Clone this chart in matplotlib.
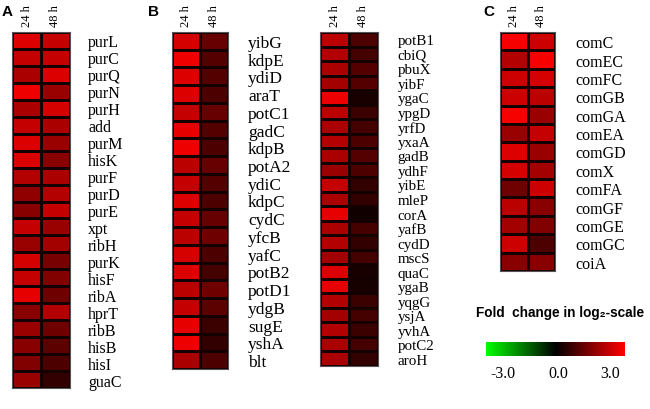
import numpy as np
import matplotlib
matplotlib.use("Agg")
import matplotlib.pyplot as plt
from matplotlib.colors import LinearSegmentedColormap

columns = ["24 h", "48 h"]

genes_a = ["purL", "purC", "purQ", "purN", "purH", "add", "purM", "hisK", "purF", "purD",
           "purE", "xpt", "ribH", "purK", "hisF", "ribA", "hprT", "ribB", "hisB", "hisI", "guaC"]
vals_a_24 = [2.6, 2.3, 2.0, 2.8, 2.0, 2.3, 2.6, 2.6, 2.1, 1.7, 1.6, 2.3, 1.8, 2.5, 2.3, 2.7, 1.6, 1.8, 1.6, 1.5, 1.8]
vals_a_48 = [2.3, 2.3, 2.6, 1.8, 2.5, 2.0, 1.8, 1.6, 2.0, 2.1, 2.3, 1.8, 1.9, 1.4, 1.5, 1.3, 2.1, 1.3, 1.1, 0.9, 0.6]

genes_b1 = ["yibG", "kdpE", "ydiD", "araT", "potC1", "gadC", "kdpB", "potA2", "ydiC", "kdpC",
            "cydC", "yfcB", "yafC", "potB2", "potD1", "ydgB", "sugE", "yshA", "blt"]
vals_b1_24 = [2.5, 2.8, 2.6, 2.6, 2.3, 2.7, 2.8, 2.2, 2.3, 2.6, 2.3, 2.2, 2.5, 2.6, 2.2, 2.3, 2.7, 2.8, 2.0]
vals_b1_48 = [1.2, 1.0, 1.0, 0.9, 1.2, 1.0, 0.9, 1.2, 1.0, 0.9, 1.2, 1.3, 0.9, 0.8, 1.3, 1.1, 0.7, 0.6, 0.9]

genes_b2 = ["potB1", "cbiQ", "pbuX", "yibF", "ygaC", "ypgD", "yrfD", "yxaA", "gadB", "ydhF", "yibE",
            "mleP", "corA", "yafB", "cydD", "mscS", "quaC", "ygaB", "yqgG", "ysjA", "yvhA", "potC2", "aroH"]
vals_b2_24 = [2.2, 2.1, 2.0, 1.9, 2.8, 2.2, 2.0, 2.1, 2.0, 1.8, 2.3, 2.0, 2.7, 2.0, 2.1, 1.9, 2.6, 2.7, 2.1, 1.9, 2.1, 2.0, 2.0]
vals_b2_48 = [0.9, 0.8, 1.0, 1.0, 0.3, 0.7, 0.8, 0.9, 1.0, 0.9, 0.6, 0.6, 0.2, 0.8, 0.6, 0.8, 0.3, 0.3, 0.7, 0.8, 0.7, 0.8, 0.6]

genes_c = ["comC", "comEC", "comFC", "comGB", "comGA", "comEA", "comGD", "comX", "comFA",
           "comGF", "comGE", "comGC", "coiA"]
vals_c_24 = [2.9, 2.1, 2.4, 2.4, 2.9, 1.8, 2.6, 2.5, 1.3, 2.2, 1.9, 2.4, 1.6]
vals_c_48 = [2.4, 2.9, 2.5, 2.2, 1.8, 2.3, 1.8, 1.9, 2.4, 1.6, 1.5, 0.9, 1.6]

cbar_ticks = [-3.0, 0.0, 3.0]

W, H = 650, 410
fig = plt.figure(figsize=(W / 100, H / 100), dpi=100)
cmap = LinearSegmentedColormap.from_list("gkr", ["#00ff00", "#000000", "#ff0000"])
serif = ["Liberation Serif", "DejaVu Serif"]
sans = ["Liberation Sans", "DejaVu Sans"]


def px_axes(x0, y0, x1, y1):
    return fig.add_axes([x0 / W, 1 - y1 / H, (x1 - x0) / W, (y1 - y0) / H])


def heat(rect, genes, v24, v48, fs, pad):
    ax = px_axes(*rect)
    data = np.column_stack([v24, v48])
    ax.pcolormesh(data, cmap=cmap, vmin=-3, vmax=3, edgecolors="#150000", linewidth=1.0)
    ax.set_xlim(0, 2)
    ax.set_ylim(len(genes), 0)
    ax.set_yticks(np.arange(len(genes)) + 0.5)
    ax.set_yticklabels(genes, family=serif, fontsize=fs, ha="left")
    ax.yaxis.tick_right()
    ax.tick_params(axis="y", length=0, pad=pad)
    ax.set_xticks([0.5, 1.5])
    ax.set_xticklabels(columns, family=serif, fontsize=9, rotation=90)
    ax.xaxis.tick_top()
    ax.tick_params(axis="x", length=0, pad=4)
    for s in ax.spines.values():
        s.set_color("#555555")
        s.set_linewidth(0.8)
    return ax


heat((12, 33, 70, 389), genes_a, vals_a_24, vals_a_48, 11.5, 13)
heat((172, 33, 228, 370), genes_b1, vals_b1_24, vals_b1_48, 12.5, 14.5)
heat((320, 33, 378, 367), genes_b2, vals_b2_24, vals_b2_48, 10.8, 14)
heat((500, 33, 555, 272), genes_c, vals_c_24, vals_c_48, 11.5, 14.5)

for lab, x in [("A", 2), ("B", 148), ("C", 483)]:
    fig.text(x / W, 1 - 12 / H, lab, family=sans, fontweight="bold", fontsize=11, va="center", ha="left")

# colorbar
cax = px_axes(486, 343, 625, 357)
grad = np.linspace(-3, 3, 256).reshape(1, -1)
cax.imshow(grad, cmap=cmap, vmin=-3, vmax=3, aspect="auto", extent=(-3, 3, 0, 1))
cax.set_xticks([])
cax.set_yticks([])
for s in cax.spines.values():
    s.set_visible(False)
for t, xp in zip(cbar_ticks, [503, 558, 610]):
    fig.text(xp / W, 1 - 374 / H, f"{t:.1f}", family=serif, fontsize=11.5, ha="center", va="center")

fig.text(476 / W, 1 - 313 / H, "Fold  change in log\u2082-scale", family=sans, fontweight="bold",
         fontsize=9.8, ha="left", va="center")

fig.savefig("out.png", dpi=100)
